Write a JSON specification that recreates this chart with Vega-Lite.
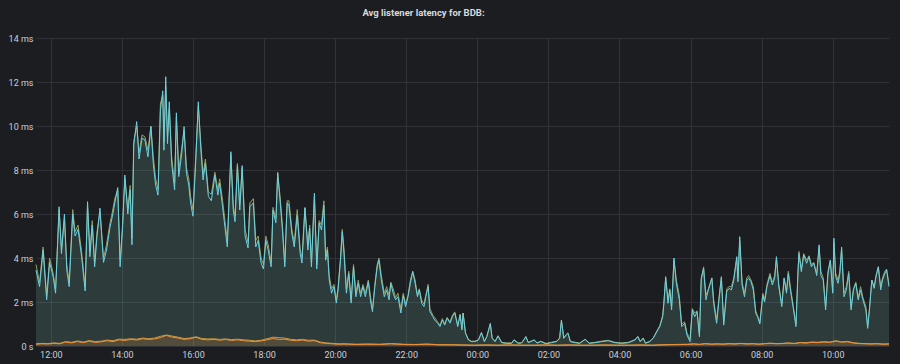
{
"$schema": "https://vega.github.io/schema/vega-lite/v6.json",
"width": 853, "height": 308,
"autosize": {"type": "none"},
"padding": {"left": 36, "top": 38, "right": 11, "bottom": 18},
"background": "#1c1d21",
"title": {"text": "Avg listener latency for BDB:", "anchor": "middle", "dx": -39, "offset": 17, "fontSize": 9.5, "fontWeight": "bold", "color": "#d8d9da", "font": "Roboto"},
"config": {
  "view": {"stroke": null},
  "axis": {"domain": false, "ticks": false, "grid": true, "gridColor": "#303237", "gridWidth": 1, "labelColor": "#c7d0d9", "labelFont": "Roboto", "labelFontSize": 9}
},
"datasets": {
"hi": [
{"t":"2024-01-01T11:35","A":3.7,"C":3.45},{"t":"2024-01-01T11:41","A":2.9,"C":2.7},{"t":"2024-01-01T11:47","A":4.5,"C":4.36},{"t":"2024-01-01T11:53","A":2.3,"C":2.1},{"t":"2024-01-01T11:58","A":4.0,"C":3.8},{"t":"2024-01-01T12:04","A":3.3,"C":3.15},{"t":"2024-01-01T12:08","A":2.6,"C":2.4},{"t":"2024-01-01T12:14","A":6.2,"C":6.33},{"t":"2024-01-01T12:18","A":4.4,"C":4.2},{"t":"2024-01-01T12:23","A":5.8,"C":6.0},
{"t":"2024-01-01T12:27","A":3.7,"C":3.45},{"t":"2024-01-01T12:31","A":2.9,"C":2.7},{"t":"2024-01-01T12:37","A":6.2,"C":6.0},{"t":"2024-01-01T12:41","A":5.2,"C":5.0},{"t":"2024-01-01T12:46","A":5.5,"C":5.3},{"t":"2024-01-01T12:52","A":4.3,"C":4.06},{"t":"2024-01-01T12:58","A":2.7,"C":2.5},{"t":"2024-01-01T13:02","A":6.4,"C":6.56},{"t":"2024-01-01T13:06","A":4.3,"C":4.06},{"t":"2024-01-01T13:10","A":5.7,"C":5.5},
{"t":"2024-01-01T13:14","A":3.8,"C":3.6},{"t":"2024-01-01T13:18","A":5.2,"C":5.0},{"t":"2024-01-01T13:23","A":6.1,"C":6.27},{"t":"2024-01-01T13:29","A":4.0,"C":3.8},{"t":"2024-01-01T13:34","A":4.6,"C":4.36},{"t":"2024-01-01T13:40","A":5.6,"C":5.4},{"t":"2024-01-01T13:44","A":6.1,"C":5.9},{"t":"2024-01-01T13:48","A":6.7,"C":6.5},{"t":"2024-01-01T13:53","A":7.1,"C":7.2},{"t":"2024-01-01T13:57","A":3.9,"C":3.6},
{"t":"2024-01-01T14:01","A":5.5,"C":5.3},{"t":"2024-01-01T14:05","A":7.6,"C":7.77},{"t":"2024-01-01T14:10","A":6.3,"C":6.0},{"t":"2024-01-01T14:14","A":7.3,"C":7.1},{"t":"2024-01-01T14:17","A":4.9,"C":4.6},{"t":"2024-01-01T14:20","A":9.3,"C":9.14},{"t":"2024-01-01T14:25","A":10.0,"C":10.2},{"t":"2024-01-01T14:29","A":8.8,"C":8.5},{"t":"2024-01-01T14:34","A":9.6,"C":9.45},{"t":"2024-01-01T14:39","A":9.5,"C":9.36},
{"t":"2024-01-01T14:44","A":8.9,"C":8.6},{"t":"2024-01-01T14:49","A":10.0,"C":9.97},{"t":"2024-01-01T14:53","A":8.6,"C":8.3},{"t":"2024-01-01T14:57","A":7.6,"C":7.3},{"t":"2024-01-01T15:01","A":7.1,"C":6.86},{"t":"2024-01-01T15:05","A":11.0,"C":10.7},{"t":"2024-01-01T15:09","A":11.4,"C":11.6},{"t":"2024-01-01T15:11","A":9.3,"C":8.9},{"t":"2024-01-01T15:14","A":11.8,"C":12.24},{"t":"2024-01-01T15:17","A":9.5,"C":9.2},
{"t":"2024-01-01T15:20","A":10.8,"C":11.1},{"t":"2024-01-01T15:24","A":8.6,"C":8.3},{"t":"2024-01-01T15:29","A":7.4,"C":7.1},{"t":"2024-01-01T15:32","A":10.4,"C":10.6},{"t":"2024-01-01T15:36","A":8.0,"C":7.7},{"t":"2024-01-01T15:41","A":9.0,"C":8.75},{"t":"2024-01-01T15:45","A":9.8,"C":9.97},{"t":"2024-01-01T15:49","A":8.1,"C":7.85},{"t":"2024-01-01T15:53","A":7.6,"C":7.3},{"t":"2024-01-01T15:56","A":6.8,"C":6.5},
{"t":"2024-01-01T16:00","A":6.2,"C":5.9},{"t":"2024-01-01T16:05","A":8.8,"C":8.6},{"t":"2024-01-01T16:09","A":10.9,"C":11.1},{"t":"2024-01-01T16:13","A":9.3,"C":9.06},{"t":"2024-01-01T16:17","A":7.8,"C":7.55},{"t":"2024-01-01T16:21","A":8.5,"C":8.3},{"t":"2024-01-01T16:26","A":7.0,"C":6.8},{"t":"2024-01-01T16:31","A":6.9,"C":6.6},{"t":"2024-01-01T16:37","A":7.9,"C":7.77},{"t":"2024-01-01T16:42","A":7.1,"C":6.86},
{"t":"2024-01-01T16:45","A":7.6,"C":7.4},{"t":"2024-01-01T16:50","A":6.6,"C":6.33},{"t":"2024-01-01T16:54","A":5.7,"C":5.4},{"t":"2024-01-01T16:58","A":4.8,"C":4.5},{"t":"2024-01-01T17:04","A":8.7,"C":8.83},{"t":"2024-01-01T17:08","A":6.4,"C":6.18},{"t":"2024-01-01T17:11","A":5.9,"C":5.65},{"t":"2024-01-01T17:15","A":8.3,"C":8.2},{"t":"2024-01-01T17:19","A":6.4,"C":6.18},{"t":"2024-01-01T17:23","A":8.1,"C":8.2},
{"t":"2024-01-01T17:28","A":5.3,"C":5.0},{"t":"2024-01-01T17:33","A":4.7,"C":4.45},{"t":"2024-01-01T17:36","A":6.5,"C":6.33},{"t":"2024-01-01T17:42","A":6.7,"C":6.5},{"t":"2024-01-01T17:46","A":4.8,"C":4.5},{"t":"2024-01-01T17:50","A":5.0,"C":4.8},{"t":"2024-01-01T17:55","A":4.0,"C":3.77},{"t":"2024-01-01T17:59","A":3.7,"C":3.5},{"t":"2024-01-01T18:03","A":5.0,"C":4.8},{"t":"2024-01-01T18:07","A":4.6,"C":4.36},
{"t":"2024-01-01T18:12","A":3.8,"C":3.6},{"t":"2024-01-01T18:15","A":6.3,"C":6.18},{"t":"2024-01-01T18:20","A":5.8,"C":5.6},{"t":"2024-01-01T18:23","A":7.9,"C":7.85},{"t":"2024-01-01T18:27","A":6.8,"C":6.64},{"t":"2024-01-01T18:31","A":5.5,"C":5.27},{"t":"2024-01-01T18:35","A":3.8,"C":3.6},{"t":"2024-01-01T18:39","A":6.6,"C":6.5},{"t":"2024-01-01T18:42","A":6.6,"C":6.4},{"t":"2024-01-01T18:47","A":5.3,"C":5.1},
{"t":"2024-01-01T18:51","A":4.7,"C":4.5},{"t":"2024-01-01T18:56","A":6.2,"C":5.95},{"t":"2024-01-01T19:01","A":4.4,"C":4.2},{"t":"2024-01-01T19:04","A":4.0,"C":3.77},{"t":"2024-01-01T19:09","A":6.3,"C":6.27},{"t":"2024-01-01T19:14","A":4.6,"C":4.36},{"t":"2024-01-01T19:17","A":5.5,"C":5.36},{"t":"2024-01-01T19:20","A":3.8,"C":3.6},{"t":"2024-01-01T19:25","A":6.8,"C":6.95},{"t":"2024-01-01T19:29","A":3.7,"C":3.5},
{"t":"2024-01-01T19:33","A":5.7,"C":5.6},{"t":"2024-01-01T19:37","A":5.5,"C":5.27},{"t":"2024-01-01T19:41","A":6.6,"C":6.4},{"t":"2024-01-01T19:44","A":4.1,"C":3.9},{"t":"2024-01-01T19:47","A":4.5,"C":4.36},{"t":"2024-01-01T19:50","A":3.2,"C":3.0},{"t":"2024-01-01T19:54","A":2.6,"C":2.4},{"t":"2024-01-01T19:58","A":2.8,"C":2.7},{"t":"2024-01-01T20:02","A":2.1,"C":1.95},{"t":"2024-01-01T20:05","A":2.7,"C":2.55},
{"t":"2024-01-01T20:09","A":4.0,"C":3.9},{"t":"2024-01-01T20:12","A":5.3,"C":5.2},{"t":"2024-01-01T20:15","A":4.4,"C":4.2},{"t":"2024-01-01T20:19","A":2.6,"C":2.4},{"t":"2024-01-01T20:23","A":3.4,"C":3.3},{"t":"2024-01-01T20:27","A":2.1,"C":1.95},{"t":"2024-01-01T20:31","A":3.7,"C":3.6},{"t":"2024-01-01T20:35","A":2.4,"C":2.24},{"t":"2024-01-01T20:39","A":3.0,"C":2.85},{"t":"2024-01-01T20:43","A":2.4,"C":2.24},
{"t":"2024-01-01T20:47","A":2.8,"C":2.7},{"t":"2024-01-01T20:51","A":2.4,"C":2.24},{"t":"2024-01-01T20:56","A":3.0,"C":2.92},{"t":"2024-01-01T21:00","A":2.2,"C":2.0},{"t":"2024-01-01T21:03","A":1.7,"C":1.56},{"t":"2024-01-01T21:07","A":2.8,"C":2.7},{"t":"2024-01-01T21:11","A":3.7,"C":3.6},{"t":"2024-01-01T21:14","A":4.0,"C":3.9},{"t":"2024-01-01T21:18","A":3.2,"C":3.0},{"t":"2024-01-01T21:23","A":2.4,"C":2.24},
{"t":"2024-01-01T21:27","A":2.7,"C":2.55},{"t":"2024-01-01T21:31","A":2.3,"C":2.1},{"t":"2024-01-01T21:34","A":2.9,"C":2.85},{"t":"2024-01-01T21:38","A":2.6,"C":2.4},{"t":"2024-01-01T21:42","A":2.2,"C":2.1},{"t":"2024-01-01T21:46","A":2.4,"C":2.24},{"t":"2024-01-01T21:51","A":1.7,"C":1.5},{"t":"2024-01-01T21:55","A":2.4,"C":2.3},{"t":"2024-01-01T21:59","A":1.9,"C":1.79},{"t":"2024-01-01T22:03","A":2.3,"C":2.24},
{"t":"2024-01-01T22:07","A":3.0,"C":2.85},{"t":"2024-01-01T22:11","A":3.4,"C":3.38},{"t":"2024-01-01T22:15","A":3.0,"C":2.85},{"t":"2024-01-01T22:19","A":2.3,"C":2.24},{"t":"2024-01-01T22:22","A":2.6,"C":2.55},{"t":"2024-01-01T22:26","A":2.1,"C":1.95},{"t":"2024-01-01T22:30","A":1.9,"C":1.79},{"t":"2024-01-01T22:33","A":2.3,"C":2.24},{"t":"2024-01-01T22:37","A":2.8,"C":2.7},{"t":"2024-01-01T22:40","A":1.7,"C":1.56},
{"t":"2024-01-01T22:45","A":1.4,"C":1.33},{"t":"2024-01-01T22:48","A":1.3,"C":1.18},{"t":"2024-01-01T22:53","A":1.1,"C":1.04},{"t":"2024-01-01T22:57","A":0.95,"C":0.88},{"t":"2024-01-01T23:01","A":1.25,"C":1.18},{"t":"2024-01-01T23:05","A":1.0,"C":0.95},{"t":"2024-01-01T23:09","A":1.3,"C":1.27},{"t":"2024-01-01T23:14","A":1.1,"C":1.04},{"t":"2024-01-01T23:18","A":1.4,"C":1.33},{"t":"2024-01-01T23:22","A":1.55,"C":1.5},
{"t":"2024-01-01T23:27","A":0.95,"C":0.88},{"t":"2024-01-01T23:31","A":1.45,"C":1.41},{"t":"2024-01-01T23:34","A":0.8,"C":0.73},{"t":"2024-01-01T23:36","A":1.5,"C":1.5},{"t":"2024-01-01T23:40","A":0.62,"C":0.58},{"t":"2024-01-01T23:45","A":0.3,"C":0.27},{"t":"2024-01-01T23:50","A":0.22,"C":0.2},{"t":"2024-01-01T23:56","A":0.22,"C":0.2},{"t":"2024-01-02T00:02","A":0.29,"C":0.27},{"t":"2024-01-02T00:07","A":0.62,"C":0.6},
{"t":"2024-01-02T00:12","A":0.22,"C":0.2},{"t":"2024-01-02T00:16","A":0.44,"C":0.42},{"t":"2024-01-02T00:22","A":1.0,"C":1.03},{"t":"2024-01-02T00:25","A":0.38,"C":0.35},{"t":"2024-01-02T00:30","A":0.22,"C":0.2},{"t":"2024-01-02T00:35","A":0.47,"C":0.45},{"t":"2024-01-02T00:41","A":0.17,"C":0.15},{"t":"2024-01-02T00:49","A":0.14,"C":0.12},{"t":"2024-01-02T00:58","A":0.14,"C":0.12},{"t":"2024-01-02T01:02","A":0.29,"C":0.27},
{"t":"2024-01-02T01:09","A":0.14,"C":0.12},{"t":"2024-01-02T01:15","A":0.15,"C":0.14},{"t":"2024-01-02T01:22","A":0.43,"C":0.42},{"t":"2024-01-02T01:26","A":0.17,"C":0.15},{"t":"2024-01-02T01:36","A":0.28,"C":0.27},{"t":"2024-01-02T01:41","A":0.15,"C":0.13},{"t":"2024-01-02T01:47","A":0.22,"C":0.2},{"t":"2024-01-02T01:56","A":0.12,"C":0.1},{"t":"2024-01-02T02:05","A":0.17,"C":0.15},{"t":"2024-01-02T02:14","A":0.22,"C":0.2},
{"t":"2024-01-02T02:19","A":0.37,"C":0.35},{"t":"2024-01-02T02:22","A":1.15,"C":1.18},{"t":"2024-01-02T02:26","A":0.38,"C":0.35},{"t":"2024-01-02T02:30","A":0.52,"C":0.5},{"t":"2024-01-02T02:33","A":0.6,"C":0.58},{"t":"2024-01-02T02:37","A":0.22,"C":0.2},{"t":"2024-01-02T02:45","A":0.17,"C":0.15},{"t":"2024-01-02T02:53","A":0.14,"C":0.12},{"t":"2024-01-02T03:02","A":0.31,"C":0.3},{"t":"2024-01-02T03:09","A":0.14,"C":0.12},
{"t":"2024-01-02T03:19","A":0.17,"C":0.15},{"t":"2024-01-02T03:30","A":0.22,"C":0.2},{"t":"2024-01-02T03:41","A":0.26,"C":0.24},{"t":"2024-01-02T03:52","A":0.17,"C":0.15},{"t":"2024-01-02T04:04","A":0.14,"C":0.12},{"t":"2024-01-02T04:15","A":0.17,"C":0.15},{"t":"2024-01-02T04:26","A":0.29,"C":0.27},{"t":"2024-01-02T04:31","A":0.44,"C":0.42},{"t":"2024-01-02T04:35","A":0.22,"C":0.2},{"t":"2024-01-02T04:40","A":0.37,"C":0.35},
{"t":"2024-01-02T04:44","A":0.14,"C":0.12},{"t":"2024-01-02T04:51","A":0.22,"C":0.2},{"t":"2024-01-02T04:57","A":0.37,"C":0.35},{"t":"2024-01-02T05:03","A":0.68,"C":0.65},{"t":"2024-01-02T05:08","A":0.92,"C":0.88},{"t":"2024-01-02T05:13","A":1.4,"C":1.33},{"t":"2024-01-02T05:15","A":2.0,"C":1.94},{"t":"2024-01-02T05:18","A":3.1,"C":3.15},{"t":"2024-01-02T05:22","A":2.1,"C":1.94},{"t":"2024-01-02T05:25","A":2.6,"C":2.55},
{"t":"2024-01-02T05:28","A":1.8,"C":1.64},{"t":"2024-01-02T05:32","A":3.9,"C":4.0},{"t":"2024-01-02T05:36","A":3.0,"C":2.85},{"t":"2024-01-02T05:41","A":2.3,"C":2.1},{"t":"2024-01-02T05:45","A":1.0,"C":0.88},{"t":"2024-01-02T05:50","A":1.1,"C":1.03},{"t":"2024-01-02T05:54","A":0.6,"C":0.5},{"t":"2024-01-02T05:59","A":0.3,"C":0.2},{"t":"2024-01-02T06:03","A":1.7,"C":1.64},{"t":"2024-01-02T06:07","A":1.5,"C":1.33},
{"t":"2024-01-02T06:11","A":1.6,"C":1.56},{"t":"2024-01-02T06:15","A":0.5,"C":0.42},{"t":"2024-01-02T06:18","A":3.0,"C":3.08},{"t":"2024-01-02T06:22","A":3.6,"C":3.53},{"t":"2024-01-02T06:26","A":2.3,"C":2.1},{"t":"2024-01-02T06:30","A":2.6,"C":2.55},{"t":"2024-01-02T06:36","A":3.1,"C":3.08},{"t":"2024-01-02T06:39","A":2.1,"C":1.94},{"t":"2024-01-02T06:44","A":1.2,"C":1.03},{"t":"2024-01-02T06:48","A":2.2,"C":2.1},
{"t":"2024-01-02T06:52","A":3.1,"C":3.15},{"t":"2024-01-02T06:56","A":1.1,"C":0.95},{"t":"2024-01-02T07:01","A":2.6,"C":2.47},{"t":"2024-01-02T07:05","A":2.7,"C":2.62},{"t":"2024-01-02T07:09","A":2.7,"C":2.55},{"t":"2024-01-02T07:13","A":3.1,"C":3.0},{"t":"2024-01-02T07:18","A":4.0,"C":4.06},{"t":"2024-01-02T07:20","A":3.1,"C":2.92},{"t":"2024-01-02T07:23","A":4.8,"C":4.97},{"t":"2024-01-02T07:27","A":2.9,"C":2.77},
{"t":"2024-01-02T07:31","A":2.4,"C":2.24},{"t":"2024-01-02T07:35","A":3.1,"C":3.0},{"t":"2024-01-02T07:38","A":3.2,"C":3.08},{"t":"2024-01-02T07:42","A":3.0,"C":2.92},{"t":"2024-01-02T07:46","A":2.7,"C":2.55},{"t":"2024-01-02T07:50","A":1.6,"C":1.48},{"t":"2024-01-02T07:53","A":1.4,"C":1.33},{"t":"2024-01-02T07:57","A":1.1,"C":1.0},{"t":"2024-01-02T08:02","A":2.4,"C":2.3},{"t":"2024-01-02T08:05","A":2.1,"C":2.0},
{"t":"2024-01-02T08:09","A":2.8,"C":2.7},{"t":"2024-01-02T08:14","A":3.3,"C":3.2},{"t":"2024-01-02T08:18","A":2.9,"C":2.77},{"t":"2024-01-02T08:22","A":3.2,"C":3.08},{"t":"2024-01-02T08:25","A":4.0,"C":4.06},{"t":"2024-01-02T08:29","A":2.8,"C":2.7},{"t":"2024-01-02T08:34","A":1.9,"C":1.79},{"t":"2024-01-02T08:38","A":3.1,"C":3.08},{"t":"2024-01-02T08:42","A":2.5,"C":2.4},{"t":"2024-01-02T08:45","A":3.4,"C":3.3},
{"t":"2024-01-02T08:49","A":2.6,"C":2.47},{"t":"2024-01-02T08:53","A":1.9,"C":1.79},{"t":"2024-01-02T08:58","A":1.0,"C":0.88},{"t":"2024-01-02T09:01","A":3.1,"C":3.2},{"t":"2024-01-02T09:03","A":4.3,"C":4.2},{"t":"2024-01-02T09:07","A":3.5,"C":3.38},{"t":"2024-01-02T09:11","A":4.2,"C":4.14},{"t":"2024-01-02T09:16","A":3.9,"C":3.76},{"t":"2024-01-02T09:20","A":4.1,"C":4.06},{"t":"2024-01-02T09:24","A":3.7,"C":3.6},
{"t":"2024-01-02T09:28","A":3.8,"C":3.76},{"t":"2024-01-02T09:33","A":3.3,"C":3.2},{"t":"2024-01-02T09:37","A":4.5,"C":4.6},{"t":"2024-01-02T09:40","A":3.4,"C":3.2},{"t":"2024-01-02T09:44","A":3.1,"C":3.0},{"t":"2024-01-02T09:48","A":1.8,"C":1.64},{"t":"2024-01-02T09:52","A":3.4,"C":3.3},{"t":"2024-01-02T09:56","A":3.9,"C":3.9},{"t":"2024-01-02T10:00","A":2.5,"C":2.4},{"t":"2024-01-02T10:02","A":4.7,"C":4.9},
{"t":"2024-01-02T10:05","A":3.3,"C":3.15},{"t":"2024-01-02T10:09","A":3.0,"C":2.85},{"t":"2024-01-02T10:12","A":3.4,"C":3.3},{"t":"2024-01-02T10:15","A":4.4,"C":4.5},{"t":"2024-01-02T10:19","A":2.4,"C":2.24},{"t":"2024-01-02T10:23","A":2.7,"C":2.55},{"t":"2024-01-02T10:27","A":3.4,"C":3.3},{"t":"2024-01-02T10:31","A":1.8,"C":1.64},{"t":"2024-01-02T10:35","A":2.6,"C":2.55},{"t":"2024-01-02T10:39","A":2.9,"C":2.85},
{"t":"2024-01-02T10:43","A":2.2,"C":2.1},{"t":"2024-01-02T10:47","A":2.7,"C":2.55},{"t":"2024-01-02T10:51","A":2.2,"C":2.1},{"t":"2024-01-02T10:56","A":1.8,"C":1.64},{"t":"2024-01-02T10:59","A":0.9,"C":0.8},{"t":"2024-01-02T11:02","A":1.7,"C":1.64},{"t":"2024-01-02T11:06","A":3.0,"C":3.0},{"t":"2024-01-02T11:10","A":2.7,"C":2.62},{"t":"2024-01-02T11:13","A":3.2,"C":3.15},{"t":"2024-01-02T11:17","A":3.6,"C":3.6},
{"t":"2024-01-02T11:21","A":2.7,"C":2.55},{"t":"2024-01-02T11:24","A":3.1,"C":3.0},{"t":"2024-01-02T11:28","A":3.4,"C":3.3},{"t":"2024-01-02T11:31","A":3.5,"C":3.45},{"t":"2024-01-02T11:35","A":2.8,"C":2.7}
],
"lo": [
{"t":"2024-01-01T11:35","B":0.1,"D":0.08},{"t":"2024-01-01T11:45","B":0.12,"D":0.1},{"t":"2024-01-01T11:55","B":0.11,"D":0.09},{"t":"2024-01-01T12:05","B":0.14,"D":0.12},{"t":"2024-01-01T12:15","B":0.12,"D":0.1},{"t":"2024-01-01T12:25","B":0.2,"D":0.18},{"t":"2024-01-01T12:35","B":0.17,"D":0.14},{"t":"2024-01-01T12:45","B":0.23,"D":0.2},{"t":"2024-01-01T12:55","B":0.18,"D":0.15},{"t":"2024-01-01T13:05","B":0.25,"D":0.22},
{"t":"2024-01-01T13:15","B":0.2,"D":0.16},{"t":"2024-01-01T13:25","B":0.22,"D":0.19},{"t":"2024-01-01T13:35","B":0.27,"D":0.24},{"t":"2024-01-01T13:45","B":0.24,"D":0.2},{"t":"2024-01-01T13:55","B":0.31,"D":0.28},{"t":"2024-01-01T14:05","B":0.3,"D":0.25},{"t":"2024-01-01T14:15","B":0.33,"D":0.3},{"t":"2024-01-01T14:25","B":0.31,"D":0.27},{"t":"2024-01-01T14:35","B":0.36,"D":0.33},{"t":"2024-01-01T14:45","B":0.33,"D":0.3},
{"t":"2024-01-01T14:55","B":0.36,"D":0.32},{"t":"2024-01-01T15:05","B":0.44,"D":0.38},{"t":"2024-01-01T15:15","B":0.5,"D":0.48},{"t":"2024-01-01T15:25","B":0.45,"D":0.4},{"t":"2024-01-01T15:35","B":0.4,"D":0.36},{"t":"2024-01-01T15:45","B":0.34,"D":0.3},{"t":"2024-01-01T15:55","B":0.36,"D":0.33},{"t":"2024-01-01T16:05","B":0.42,"D":0.4},{"t":"2024-01-01T16:15","B":0.34,"D":0.3},{"t":"2024-01-01T16:25","B":0.32,"D":0.28},
{"t":"2024-01-01T16:35","B":0.33,"D":0.3},{"t":"2024-01-01T16:45","B":0.3,"D":0.26},{"t":"2024-01-01T16:55","B":0.32,"D":0.3},{"t":"2024-01-01T17:05","B":0.29,"D":0.25},{"t":"2024-01-01T17:15","B":0.31,"D":0.28},{"t":"2024-01-01T17:25","B":0.28,"D":0.24},{"t":"2024-01-01T17:35","B":0.26,"D":0.22},{"t":"2024-01-01T17:45","B":0.23,"D":0.2},{"t":"2024-01-01T17:55","B":0.26,"D":0.23},{"t":"2024-01-01T18:05","B":0.33,"D":0.28},
{"t":"2024-01-01T18:15","B":0.4,"D":0.34},{"t":"2024-01-01T18:25","B":0.38,"D":0.3},{"t":"2024-01-01T18:35","B":0.36,"D":0.31},{"t":"2024-01-01T18:45","B":0.3,"D":0.26},{"t":"2024-01-01T18:55","B":0.28,"D":0.24},{"t":"2024-01-01T19:05","B":0.3,"D":0.27},{"t":"2024-01-01T19:15","B":0.26,"D":0.22},{"t":"2024-01-01T19:25","B":0.27,"D":0.24},{"t":"2024-01-01T19:35","B":0.18,"D":0.15},{"t":"2024-01-01T19:45","B":0.14,"D":0.12},
{"t":"2024-01-01T19:55","B":0.12,"D":0.1},{"t":"2024-01-01T20:05","B":0.1,"D":0.08},{"t":"2024-01-01T20:15","B":0.1,"D":0.09},{"t":"2024-01-01T20:35","B":0.08,"D":0.07},{"t":"2024-01-01T20:55","B":0.09,"D":0.08},{"t":"2024-01-01T21:15","B":0.08,"D":0.07},{"t":"2024-01-01T21:35","B":0.11,"D":0.1},{"t":"2024-01-01T21:55","B":0.08,"D":0.07},{"t":"2024-01-01T22:15","B":0.07,"D":0.06},{"t":"2024-01-01T22:35","B":0.09,"D":0.08},
{"t":"2024-01-01T22:55","B":0.06,"D":0.05},{"t":"2024-01-01T23:15","B":0.06,"D":0.05},{"t":"2024-01-01T23:35","B":0.05,"D":0.04},{"t":"2024-01-01T23:55","B":0.04,"D":0.03},{"t":"2024-01-02T00:15","B":0.05,"D":0.04},{"t":"2024-01-02T00:35","B":0.04,"D":0.03},{"t":"2024-01-02T00:55","B":0.05,"D":0.04},{"t":"2024-01-02T01:15","B":0.04,"D":0.03},{"t":"2024-01-02T01:35","B":0.04,"D":0.03},{"t":"2024-01-02T01:55","B":0.05,"D":0.04},
{"t":"2024-01-02T02:15","B":0.04,"D":0.03},{"t":"2024-01-02T02:35","B":0.05,"D":0.04},{"t":"2024-01-02T02:55","B":0.04,"D":0.03},{"t":"2024-01-02T03:15","B":0.04,"D":0.03},{"t":"2024-01-02T03:35","B":0.05,"D":0.04},{"t":"2024-01-02T03:55","B":0.04,"D":0.03},{"t":"2024-01-02T04:15","B":0.04,"D":0.03},{"t":"2024-01-02T04:35","B":0.05,"D":0.04},{"t":"2024-01-02T04:55","B":0.04,"D":0.03},{"t":"2024-01-02T05:15","B":0.06,"D":0.05},
{"t":"2024-01-02T05:35","B":0.07,"D":0.06},{"t":"2024-01-02T05:55","B":0.08,"D":0.07},{"t":"2024-01-02T06:05","B":0.1,"D":0.09},{"t":"2024-01-02T06:15","B":0.08,"D":0.07},{"t":"2024-01-02T06:25","B":0.11,"D":0.1},{"t":"2024-01-02T06:35","B":0.09,"D":0.08},{"t":"2024-01-02T06:45","B":0.1,"D":0.09},{"t":"2024-01-02T06:55","B":0.09,"D":0.08},{"t":"2024-01-02T07:05","B":0.11,"D":0.1},{"t":"2024-01-02T07:15","B":0.1,"D":0.09},
{"t":"2024-01-02T07:25","B":0.12,"D":0.11},{"t":"2024-01-02T07:35","B":0.1,"D":0.09},{"t":"2024-01-02T07:45","B":0.11,"D":0.1},{"t":"2024-01-02T07:55","B":0.09,"D":0.08},{"t":"2024-01-02T08:05","B":0.11,"D":0.1},{"t":"2024-01-02T08:15","B":0.13,"D":0.12},{"t":"2024-01-02T08:25","B":0.11,"D":0.1},{"t":"2024-01-02T08:35","B":0.12,"D":0.11},{"t":"2024-01-02T08:45","B":0.14,"D":0.13},{"t":"2024-01-02T08:55","B":0.12,"D":0.11},
{"t":"2024-01-02T09:05","B":0.16,"D":0.15},{"t":"2024-01-02T09:15","B":0.15,"D":0.13},{"t":"2024-01-02T09:25","B":0.18,"D":0.17},{"t":"2024-01-02T09:35","B":0.17,"D":0.15},{"t":"2024-01-02T09:45","B":0.2,"D":0.18},{"t":"2024-01-02T09:55","B":0.18,"D":0.16},{"t":"2024-01-02T10:05","B":0.24,"D":0.22},{"t":"2024-01-02T10:15","B":0.19,"D":0.17},{"t":"2024-01-02T10:25","B":0.21,"D":0.19},{"t":"2024-01-02T10:35","B":0.15,"D":0.13},
{"t":"2024-01-02T10:45","B":0.12,"D":0.11},{"t":"2024-01-02T10:55","B":0.11,"D":0.1},{"t":"2024-01-02T11:05","B":0.1,"D":0.09},{"t":"2024-01-02T11:15","B":0.11,"D":0.1},{"t":"2024-01-02T11:25","B":0.09,"D":0.08},{"t":"2024-01-02T11:35","B":0.1,"D":0.09}
]
},
"encoding": {
  "x": {"field": "t", "type": "temporal", "title": null, "axis": {"format": "%H:%M", "labelPadding": 4, "values": [
    {"year": 2024, "month": 1, "date": 1, "hours": 12, "minutes": 0},
    {"year": 2024, "month": 1, "date": 1, "hours": 14, "minutes": 0},
    {"year": 2024, "month": 1, "date": 1, "hours": 16, "minutes": 0},
    {"year": 2024, "month": 1, "date": 1, "hours": 18, "minutes": 0},
    {"year": 2024, "month": 1, "date": 1, "hours": 20, "minutes": 0},
    {"year": 2024, "month": 1, "date": 1, "hours": 22, "minutes": 0},
    {"year": 2024, "month": 1, "date": 2, "hours": 0, "minutes": 0},
    {"year": 2024, "month": 1, "date": 2, "hours": 2, "minutes": 0},
    {"year": 2024, "month": 1, "date": 2, "hours": 4, "minutes": 0},
    {"year": 2024, "month": 1, "date": 2, "hours": 6, "minutes": 0},
    {"year": 2024, "month": 1, "date": 2, "hours": 8, "minutes": 0},
    {"year": 2024, "month": 1, "date": 2, "hours": 10, "minutes": 0}
  ]}},
  "y": {"field": "v", "type": "quantitative", "stack": null, "title": null, "scale": {"domain": [0, 14], "nice": false}, "axis": {"values": [0, 2, 4, 6, 8, 10, 12, 14], "labelExpr": "datum.value == 0 ? '0 s' : datum.value + ' ms'", "labelPadding": 3}}
},
"layer": [
  {"data": {"name": "hi"}, "transform": [{"fold": ["A", "C"], "as": ["s", "v"]}], "mark": {"type": "area", "fillOpacity": 0.1},
   "encoding": {"color": {"field": "s", "type": "nominal", "legend": null, "scale": {"domain": ["A", "B", "C", "D"], "range": ["#7eb26d", "#eab839", "#6ed0e0", "#ef843c"]}}}},
  {"data": {"name": "lo"}, "transform": [{"fold": ["B", "D"], "as": ["s", "v"]}], "mark": {"type": "area", "fillOpacity": 0.1},
   "encoding": {"color": {"field": "s", "type": "nominal", "legend": null}}},
  {"data": {"name": "hi"}, "transform": [{"fold": ["A", "C"], "as": ["s", "v"]}], "mark": {"type": "line", "strokeWidth": 1},
   "encoding": {"stroke": {"field": "s", "type": "nominal", "legend": null, "scale": {"domain": ["A", "B", "C", "D"], "range": ["#929e5e", "#c99a3a", "#6ed0e0", "#ef8f3c"]}}}},
  {"data": {"name": "lo"}, "transform": [{"fold": ["B", "D"], "as": ["s", "v"]}], "mark": {"type": "line", "strokeWidth": 1},
   "encoding": {"stroke": {"field": "s", "type": "nominal", "legend": null}}}
]
}
